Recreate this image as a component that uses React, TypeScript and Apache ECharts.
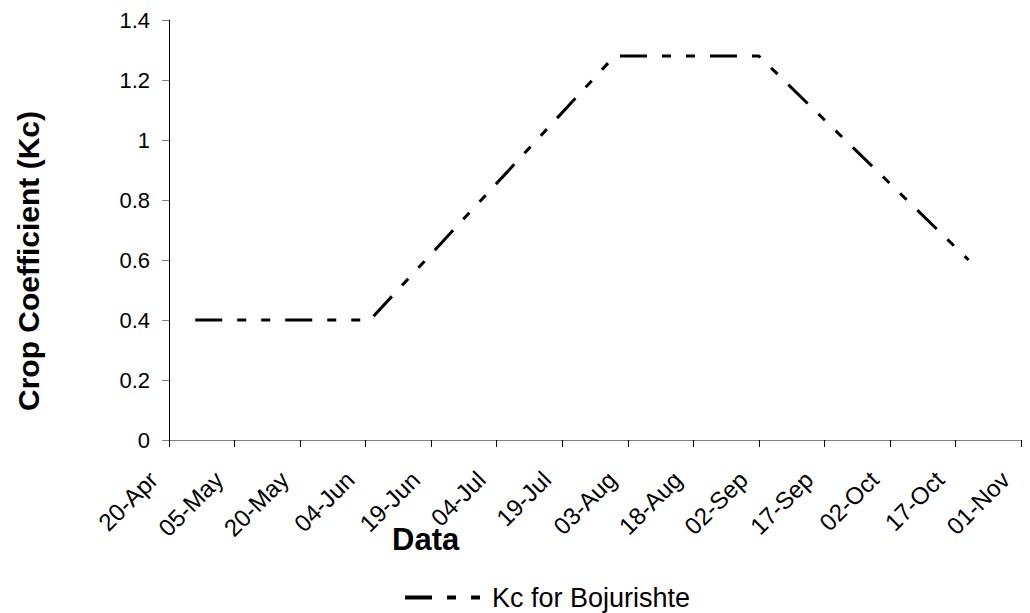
import React, { useEffect, useRef } from "react";
import * as echarts from "echarts";

// Date axis: ticks every 15 days starting 20-Apr
const axisStart = "2010-04-20";
const tickLabels = [
  "20-Apr", "05-May", "20-May", "04-Jun", "19-Jun", "04-Jul", "19-Jul",
  "03-Aug", "18-Aug", "02-Sep", "17-Sep", "02-Oct", "17-Oct", "01-Nov",
];
const tickStepDays = 15;

// Crop coefficient curve (initial, development, mid-season, late season)
const kcDates = ["2010-04-26", "2010-06-05", "2010-07-31", "2010-09-02", "2010-10-20"];
const kcValues = [0.4, 0.4, 1.28, 1.28, 0.6];

const seriesName = "Kc for Bojurishte";
const xTitle = "Data";
const yTitle = "Crop Coefficient (Kc)";

const DAY_MS = 86400000;
const daysFromStart = (iso: string) =>
  Math.round((Date.parse(iso) - Date.parse(axisStart)) / DAY_MS);

const FONT = "'Liberation Sans', Arial, sans-serif";

export default function App() {
  const ref = useRef<HTMLDivElement>(null);

  useEffect(() => {
    if (!ref.current) return;
    const chart = echarts.init(ref.current, null, { renderer: "svg" });
    const data = kcDates.map((d, i) => [daysFromStart(d), kcValues[i]]);
    const xMax = (tickLabels.length - 1) * tickStepDays;

    chart.setOption({
      animation: false,
      backgroundColor: "#ffffff",
      textStyle: { fontFamily: FONT, color: "#000" },
      grid: { left: 169, right: 9, top: 20, bottom: 173, containLabel: false },
      xAxis: {
        type: "value",
        min: 0,
        max: xMax,
        interval: tickStepDays,
        axisLine: { show: true, lineStyle: { color: "#808080", width: 1 } },
        axisTick: { show: true, length: 7, lineStyle: { color: "#000", width: 1 } },
        splitLine: { show: false },
        axisLabel: {
          rotate: 45,
          margin: 20,
          fontSize: 24,
          fontFamily: FONT,
          color: "#000",
          padding: [0, 22, 0, 0],
          showMinLabel: true,
          showMaxLabel: true,
          formatter: (v: number) => tickLabels[Math.round(v / tickStepDays)] ?? "",
        },
      },
      yAxis: {
        type: "value",
        min: 0,
        max: 1.4,
        interval: 0.2,
        axisLine: { show: true, lineStyle: { color: "#000", width: 1 } },
        axisTick: { show: true, length: 7, lineStyle: { color: "#808080", width: 1 } },
        splitLine: { show: false },
        axisLabel: {
          margin: 19,
          fontSize: 22,
          fontFamily: FONT,
          color: "#000",
        },
      },
      legend: {
        show: true,
        left: 398,
        top: 579,
        itemWidth: 76,
        itemHeight: 14,
        itemStyle: { opacity: 0 },
        lineStyle: { width: 4 },
        textStyle: { fontSize: 27, fontFamily: FONT, color: "#000", padding: [0, 0, 0, 6] },
        data: [seriesName],
      },
      graphic: [
        {
          type: "text",
          left: 392,
          top: 524,
          style: { text: xTitle, font: `bold 31px ${FONT}`, fill: "#000" },
        },
        {
          type: "text",
          x: 28,
          y: 261,
          rotation: Math.PI / 2,
          style: {
            text: yTitle,
            font: `bold 30px ${FONT}`,
            fill: "#000",
            align: "center",
            verticalAlign: "middle",
          },
        },
      ],
      series: [
        {
          name: seriesName,
          type: "line",
          data,
          symbol: "none",
          lineStyle: { color: "#000", width: 3, type: [27, 15, 9, 15, 9, 15], cap: "butt" },
          itemStyle: { color: "#000" },
        },
      ],
    });
    return () => chart.dispose();
  }, []);

  return (
    <div
      ref={ref}
      style={{ position: "absolute", left: 0, top: 0, width: 1030, height: 613 }}
    />
  );
}
